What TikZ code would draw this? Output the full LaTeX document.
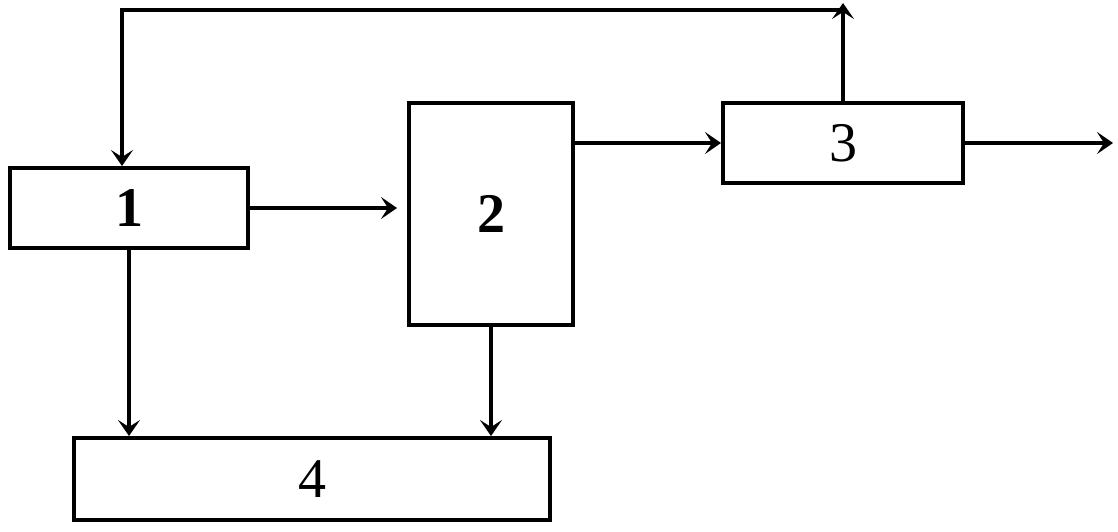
\documentclass[tikz,border=0pt]{standalone}
\usepackage{fontspec}
\setmainfont{Liberation Serif}
\usetikzlibrary{arrows.meta}
\tikzstyle{block} = [rectangle, minimum width=119pt, minimum height=40pt, inner sep=0pt, text centered, draw=black, line width=2pt, fill=white, font=\fontsize{28}{32}\selectfont]
\tikzstyle{arrow} = [line width=2pt,-{Stealth[length=8pt,width=11pt,inset=3.5pt]}]
\begin{document}
\begin{tikzpicture}[x=0.5pt, y=-0.5pt]
						\useasboundingbox (0,0) rectangle (1118,531);
						\node (b1) [block] at (129,208) {\textbf{1}};
						\node (b2) [block, minimum width=82pt, minimum height=111pt] at (491,214) {\textbf{2}};
						\node (b3) [block, minimum width=120pt] at (843,143) {3};
						\node (b4) [block, minimum width=238pt, minimum height=41pt] at (312,479) {4};
						\coordinate (fb) at (122,10);
						\coordinate (top) at (843,3);
						\coordinate (out) at (1113,143);
						\draw [arrow] (b1.east) -- ([xshift=-5pt]b1.east -| b2.west);
						\draw [arrow] (b3.west -| b2.east) -- (b3.west);
						\draw [arrow] (b3.east) -- (out);
						\draw [arrow] (b3.north) -- (top);
						\draw [arrow] (b3.north |- fb) -- (fb) -- (fb |- b1.north);
						\draw [arrow] (b1.south) -- (b1.south |- b4.north);
						\draw [arrow] (b2.south) -- (b2.south |- b4.north);
					\end{tikzpicture}
\end{document}
